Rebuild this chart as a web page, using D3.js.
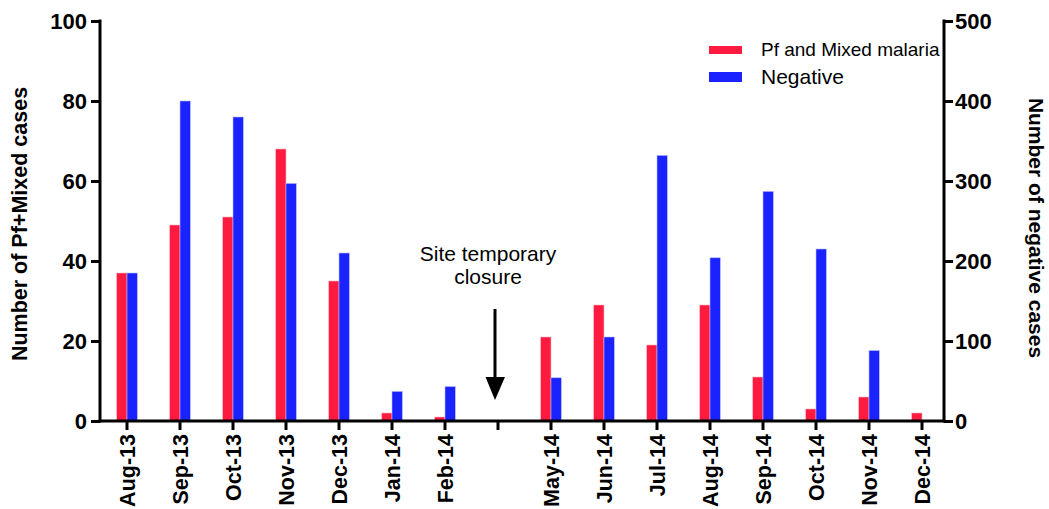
<!DOCTYPE html>
<html>
<head>
<meta charset="utf-8">
<script src="https://cdn.jsdelivr.net/npm/d3@7"></script>
<style>
  html, body { margin: 0; padding: 0; background: #fff; }
  svg { display: block; font-family: "Liberation Sans", Arial, sans-serif; }
</style>
</head>
<body>
<svg id="chart" width="1049" height="509"></svg>
<script>
// ---- data ----
const categories = ["Aug-13","Sep-13","Oct-13","Nov-13","Dec-13","Jan-14","Feb-14","",
                    "May-14","Jun-14","Jul-14","Aug-14","Sep-14","Oct-14","Nov-14","Dec-14"];
const pfMixed  = [37, 49, 51, 68, 35, 2, 1, null, 21, 29, 19, 29, 11, 3, 6, 2];
const negative = [185, 400, 380, 297, 210, 37, 43, null, 54, 105, 332, 204, 287, 215, 88, 0];
const leftTicks  = [0, 20, 40, 60, 80, 100];
const rightTicks = [0, 100, 200, 300, 400, 500];
const seriesNames = ["Pf and Mixed malaria", "Negative"];
const colors = ["#ff1a40", "#1a23ff"];

// ---- layout ----
const svg = d3.select("#chart");
const x0 = 100, x1 = 944, yTop = 21, yBot = 421;

const x = d3.scaleBand().domain(d3.range(categories.length)).range([100.5, 948.5]).padding(0);
const yL = d3.scaleLinear().domain([0, 100]).range([yBot, yTop]);
const yR = d3.scaleLinear().domain([0, 500]).range([yBot, yTop]);
const barW = 10.3;

// bars
const g = svg.append("g");
categories.forEach((c, i) => {
  const cx = x(i) + x.bandwidth() / 2;
  if (pfMixed[i] != null) {
    g.append("rect").attr("x", cx - barW).attr("width", barW)
      .attr("y", yL(pfMixed[i])).attr("height", yBot - yL(pfMixed[i]))
      .attr("fill", colors[0]).attr("stroke", "#ffb3c0").attr("stroke-width", 0.6);
  }
  if (negative[i] != null && negative[i] > 0) {
    g.append("rect").attr("x", cx).attr("width", barW)
      .attr("y", yR(negative[i])).attr("height", yBot - yR(negative[i]))
      .attr("fill", colors[1]).attr("stroke", "#b3b8ff").attr("stroke-width", 0.6);
  }
});

// axes
const axisStyle = sel => {
  sel.selectAll(".domain").remove();
  sel.selectAll(".tick line").attr("stroke", "#000").attr("stroke-width", 3);
  sel.selectAll(".tick text").attr("fill", "#000").style("font-weight", "bold").style("font-size", "22px");
};

const gL = svg.append("g").attr("transform", `translate(${x0},0)`)
  .call(d3.axisLeft(yL).tickValues(leftTicks).tickSize(9).tickPadding(4));
axisStyle(gL);

const gR = svg.append("g").attr("transform", `translate(${x1},0)`)
  .call(d3.axisRight(yR).tickValues(rightTicks).tickSize(9).tickPadding(2));
axisStyle(gR);

const xAxis = d3.axisBottom(x).tickSize(9).tickPadding(4).tickFormat(i => categories[i]);
const gX = svg.append("g").attr("transform", `translate(0,${yBot})`).call(xAxis);
axisStyle(gX);
gX.selectAll(".tick text")
  .style("font-size", "21.5px")
  .attr("transform", "rotate(-90)")
  .attr("text-anchor", "end")
  .attr("x", -13).attr("y", 0).attr("dy", "0.35em");

// axis lines
svg.append("line").attr("x1", x0).attr("x2", x0).attr("y1", yTop - 1.5).attr("y2", yBot + 1.5)
  .attr("stroke", "#000").attr("stroke-width", 3);
svg.append("line").attr("x1", x1).attr("x2", x1).attr("y1", yTop - 1.5).attr("y2", yBot + 1.5)
  .attr("stroke", "#000").attr("stroke-width", 3);
svg.append("line").attr("x1", x0 - 1.5).attr("x2", x1 + 1.5).attr("y1", yBot).attr("y2", yBot)
  .attr("stroke", "#000").attr("stroke-width", 3);

// axis titles
svg.append("text").attr("transform", `translate(27,${(yTop + yBot) / 2 + 3}) rotate(-90)`)
  .attr("text-anchor", "middle").style("font-weight", "bold").style("font-size", "21.5px")
  .text("Number of Pf+Mixed cases");
svg.append("text").attr("transform", `translate(1029,${(yTop + yBot) / 2 + 7}) rotate(90)`)
  .attr("text-anchor", "middle").style("font-weight", "bold").style("font-size", "21px")
  .text("Number of negative cases");

// legend
const leg = svg.append("g");
leg.append("rect").attr("x", 709).attr("y", 46).attr("width", 33).attr("height", 8).attr("fill", colors[0]);
leg.append("text").attr("x", 761).attr("y", 56).style("font-size", "19px").text(seriesNames[0]);
leg.append("rect").attr("x", 709).attr("y", 72).attr("width", 33).attr("height", 10).attr("fill", colors[1]);
leg.append("text").attr("x", 761).attr("y", 84).style("font-size", "21px").text(seriesNames[1]);

// annotation
const ann = svg.append("g");
ann.append("text").attr("x", 488).attr("y", 261).attr("text-anchor", "middle")
  .style("font-size", "21px").text("Site temporary");
ann.append("text").attr("x", 488).attr("y", 284).attr("text-anchor", "middle")
  .style("font-size", "21px").text("closure");
ann.append("line").attr("x1", 495).attr("x2", 495).attr("y1", 309).attr("y2", 380)
  .attr("stroke", "#000").attr("stroke-width", 3);
ann.append("path").attr("d", "M485.5,377 L505,377 L495,400 Z").attr("fill", "#000");
</script>
</body>
</html>
